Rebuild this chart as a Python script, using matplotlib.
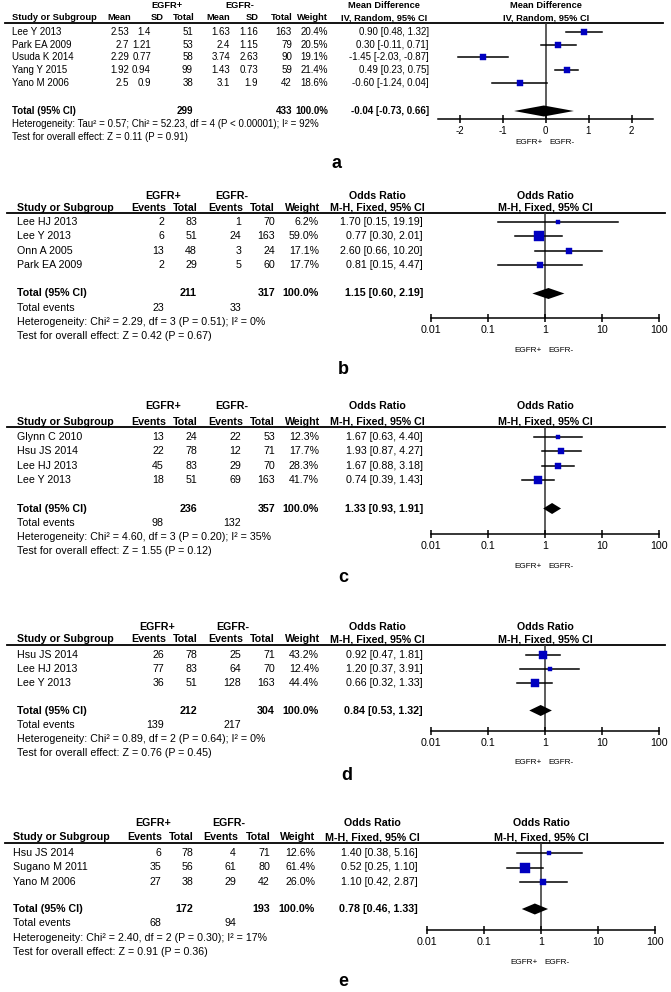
import matplotlib
matplotlib.use("Agg")
import matplotlib.pyplot as plt
import numpy as np

W, H = 671, 992
plt.rcParams['font.family'] = ['Liberation Sans', 'DejaVu Sans']

BLUE = '#0000c0'

# ---- panel a: mean difference
a_studies = ["Lee Y 2013", "Park EA 2009", "Usuda K 2014", "Yang Y 2015", "Yano M 2006"]
a_pos_mean = [2.53, 2.7, 2.29, 1.92, 2.5]
a_pos_sd = [1.4, 1.21, 0.77, 0.94, 0.9]
a_pos_n = [51, 53, 58, 99, 38]
a_neg_mean = [1.63, 2.4, 3.74, 1.43, 3.1]
a_neg_sd = [1.16, 1.15, 2.63, 0.73, 1.9]
a_neg_n = [163, 79, 90, 59, 42]
a_weight = [20.4, 20.5, 19.1, 21.4, 18.6]
a_est = [0.90, 0.30, -1.45, 0.49, -0.60]
a_lo = [0.48, -0.11, -2.03, 0.23, -1.24]
a_hi = [1.32, 0.71, -0.87, 0.75, 0.04]
a_total = [-0.04, -0.73, 0.66]
a_total_n = [299, 433]
a_het = "Heterogeneity: Tau² = 0.57; Chi² = 52.23, df = 4 (P < 0.00001); I² = 92%"
a_test = "Test for overall effect: Z = 0.11 (P = 0.91)"

# ---- panel b
b_studies = ["Lee HJ 2013", "Lee Y 2013", "Onn A 2005", "Park EA 2009"]
b_pos_ev = [2, 6, 13, 2]
b_pos_n = [83, 51, 48, 29]
b_neg_ev = [1, 24, 3, 5]
b_neg_n = [70, 163, 24, 60]
b_weight = [6.2, 59.0, 17.1, 17.7]
b_est = [1.70, 0.77, 2.60, 0.81]
b_lo = [0.15, 0.30, 0.66, 0.15]
b_hi = [19.19, 2.01, 10.20, 4.47]
b_total = [1.15, 0.60, 2.19]
b_total_n = [211, 317]
b_total_ev = [23, 33]
b_het = "Heterogeneity: Chi² = 2.29, df = 3 (P = 0.51); I² = 0%"
b_test = "Test for overall effect: Z = 0.42 (P = 0.67)"

# ---- panel c
c_studies = ["Glynn C 2010", "Hsu JS 2014", "Lee HJ 2013", "Lee Y 2013"]
c_pos_ev = [13, 22, 45, 18]
c_pos_n = [24, 78, 83, 51]
c_neg_ev = [22, 12, 29, 69]
c_neg_n = [53, 71, 70, 163]
c_weight = [12.3, 17.7, 28.3, 41.7]
c_est = [1.67, 1.93, 1.67, 0.74]
c_lo = [0.63, 0.87, 0.88, 0.39]
c_hi = [4.40, 4.27, 3.18, 1.43]
c_total = [1.33, 0.93, 1.91]
c_total_n = [236, 357]
c_total_ev = [98, 132]
c_het = "Heterogeneity: Chi² = 4.60, df = 3 (P = 0.20); I² = 35%"
c_test = "Test for overall effect: Z = 1.55 (P = 0.12)"

# ---- panel d
d_studies = ["Hsu JS 2014", "Lee HJ 2013", "Lee Y 2013"]
d_pos_ev = [26, 77, 36]
d_pos_n = [78, 83, 51]
d_neg_ev = [25, 64, 128]
d_neg_n = [71, 70, 163]
d_weight = [43.2, 12.4, 44.4]
d_est = [0.92, 1.20, 0.66]
d_lo = [0.47, 0.37, 0.32]
d_hi = [1.81, 3.91, 1.33]
d_total = [0.84, 0.53, 1.32]
d_total_n = [212, 304]
d_total_ev = [139, 217]
d_het = "Heterogeneity: Chi² = 0.89, df = 2 (P = 0.64); I² = 0%"
d_test = "Test for overall effect: Z = 0.76 (P = 0.45)"

# ---- panel e
e_studies = ["Hsu JS 2014", "Sugano M 2011", "Yano M 2006"]
e_pos_ev = [6, 35, 27]
e_pos_n = [78, 56, 38]
e_neg_ev = [4, 61, 29]
e_neg_n = [71, 80, 42]
e_weight = [12.6, 61.4, 26.0]
e_est = [1.40, 0.52, 1.10]
e_lo = [0.38, 0.25, 0.42]
e_hi = [5.16, 1.10, 2.87]
e_total = [0.78, 0.46, 1.33]
e_total_n = [172, 193]
e_total_ev = [68, 94]
e_het = "Heterogeneity: Chi² = 2.40, df = 2 (P = 0.30); I² = 17%"
e_test = "Test for overall effect: Z = 0.91 (P = 0.36)"

md_ticks = [-2, -1, 0, 1, 2]
or_ticks = [0.01, 0.1, 1, 10, 100]

fig = plt.figure(figsize=(W / 100, H / 100), dpi=100)
bg = fig.add_axes([0, 0, 1, 1])
bg.set_xlim(0, W)
bg.set_ylim(H, 0)
bg.axis('off')


def txt(x, y, s, ha='left', va='center', fs=7.5, bold=False):
    bg.text(x, y, s, ha=ha, va=va, fontsize=fs,
            fontweight='bold' if bold else 'normal', color='black')


def draw_panel(L, studies, cols, hdrs, weights, est, lo, hi, total, tot_n,
               tot_ev, het, test, meas, method, log, letter):
    fs = L['fs']
    hfs = L.get('hfs', fs)
    # group headers
    txt(L['grp'][0], L['y_grp'], "EGFR+", ha='center', fs=hfs, bold=True)
    txt(L['grp'][1], L['y_grp'], "EGFR-", ha='center', fs=hfs, bold=True)
    # column header row
    yb = L['y_line'] - 2
    txt(L['x_study'], yb, "Study or Subgroup", va='baseline', fs=hfs, bold=True)
    for h, xh in zip(hdrs, L['xh']):
        txt(xh, yb, h, ha='right', va='baseline', fs=hfs, bold=True)
    txt(L['xh_w'], yb, "Weight", ha='right', va='baseline', fs=hfs, bold=True)
    txt(L['est_c'], L['y_grp'], meas, ha='center', fs=hfs, bold=True)
    txt(L['est_c'], yb, method, ha='center', va='baseline', fs=hfs, bold=True)
    x0, x1, y_ax = L['box']
    pc = L['null_x']
    txt(pc, L['y_grp'], meas, ha='center', fs=hfs, bold=True)
    txt(pc, yb, method, ha='center', va='baseline', fs=hfs, bold=True)
    bg.plot(L['line_x'], [L['y_line'], L['y_line']], color='black', lw=1.3)

    # study rows
    ys = [L['row0'] + i * L['dy'] for i in range(len(studies))]
    for i, y in enumerate(ys):
        txt(L['x_study'], y, studies[i], fs=fs)
        for col, xv in zip(cols, L['xv']):
            txt(xv, y, str(col[i]), ha='right', fs=fs)
        txt(L['xv_w'], y, f"{weights[i]:.1f}%", ha='right', fs=fs)
        txt(L['est_r'], y, f"{est[i]:.2f} [{lo[i]:.2f}, {hi[i]:.2f}]", ha='right', fs=fs)

    yt = L['y_tot']
    txt(L['x_study'], yt, "Total (95% CI)", fs=fs, bold=True)
    for k, ci in enumerate(L['tot_cols']):
        txt(L['xv'][ci], yt, str(tot_n[k]), ha='right', fs=fs, bold=True)
    txt(L['xv_w'], yt, "100.0%", ha='right', fs=fs, bold=True)
    txt(L['est_r'], yt, f"{total[0]:.2f} [{total[1]:.2f}, {total[2]:.2f}]",
        ha='right', fs=fs, bold=True)
    yf = yt + L['fdy']
    if tot_ev is not None:
        txt(L['x_study'], yf, "Total events", fs=fs)
        for k, ci in enumerate(L['ev_cols']):
            txt(L['xv'][ci], yf, str(tot_ev[k]), ha='right', fs=fs)
        yf += L['fdy']
    txt(L['x_study'], yf, het, fs=fs)
    txt(L['x_study'], yf + L['fdy'], test, fs=fs)

    # forest plot axes
    ax = fig.add_axes([x0 / W, 1 - y_ax / H, (x1 - x0) / W, (y_ax - L['y_line']) / H])
    ax.set_facecolor('none')
    if log:
        ax.set_xscale('log')
        ax.set_xlim(0.01, 100)
        ticks = or_ticks
        null = 1
    else:
        ax.set_xlim(-2.5, 2.5)
        ticks = md_ticks
        null = 0
    ax.set_ylim(y_ax, L['y_line'])
    ax.axvline(null, color='#303030', lw=1.1, zorder=1)
    for i, y in enumerate(ys):
        ax.plot([lo[i], hi[i]], [y, y], color='black', lw=1.1, zorder=2)
        side = 1.3 * np.sqrt(weights[i])
        ax.plot(est[i], y, marker='s', ms=side * 0.72, color=BLUE, mec=BLUE,
                mew=0.3, zorder=3)
    hh = 5.5
    ax.fill([total[1], total[0], total[2], total[0]], [yt, yt - hh, yt, yt + hh],
            color='black', lw=0, zorder=3)
    for s in ['top', 'left', 'right']:
        ax.spines[s].set_visible(False)
    ax.spines['bottom'].set_linewidth(1.1)
    ax.set_yticks([])
    ax.set_xticks(ticks)
    ax.set_xticklabels([f"{t:g}" for t in ticks])
    ax.minorticks_off()
    ax.tick_params(axis='x', direction='inout', length=6, width=1.1,
                   labelsize=fs, pad=2)
    txt(pc - 3, L['y_lab'], "EGFR+", ha='right', fs=5.9)
    txt(pc + 3, L['y_lab'], "EGFR-", ha='left', fs=5.9)
    txt(L['letter'][0], L['letter'][1], letter, ha='center', fs=13, bold=True)


La = dict(fs=7.05, hfs=6.7, grp=(167, 240), y_grp=5.5, y_line=22.5, x_study=12,
          xh=[131, 164, 195, 230, 259, 293], xv=[129, 151, 193, 230, 258, 292],
          xh_w=328, xv_w=328, est_c=384, est_r=429, line_x=[5, 663],
          box=(438, 653, 119), null_x=546, row0=32, dy=12.65, y_tot=111, fdy=13,
          tot_cols=[2, 5], ev_cols=None, y_lab=143, letter=(337, 163))
draw_panel(La, a_studies, [a_pos_mean, a_pos_sd, a_pos_n, a_neg_mean, a_neg_sd, a_neg_n],
           ["Mean", "SD", "Total", "Mean", "SD", "Total"], a_weight, a_est, a_lo, a_hi,
           a_total, a_total_n, None, a_het, a_test,
           "Mean Difference", "IV, Random, 95% CI", False, "a")

or_hdrs = ["Events", "Total", "Events", "Total"]
base = dict(fs=7.65, x_study=17, xh=[166, 198, 243, 275], xv=[164, 197, 241, 275],
            xh_w=320, xv_w=319, est_c=377, est_r=423, line_x=[7, 665],
            box=(431, 659, 318), null_x=545, fdy=14.3, tot_cols=[1, 3], ev_cols=[0, 2])

Lb = dict(base, grp=(163, 232), y_grp=196, y_line=213, row0=222, dy=14.3,
          y_tot=293.5, box=(431, 659, 318), y_lab=350, letter=(343, 370))
draw_panel(Lb, b_studies, [b_pos_ev, b_pos_n, b_neg_ev, b_neg_n], or_hdrs, b_weight,
           b_est, b_lo, b_hi, b_total, b_total_n, b_total_ev, b_het, b_test,
           "Odds Ratio", "M-H, Fixed, 95% CI", True, "b")

Lc = dict(base, grp=(163, 232), y_grp=406, y_line=427, row0=437, dy=14.3,
          y_tot=508.5, box=(431, 659, 534), y_lab=566, letter=(343, 578))
draw_panel(Lc, c_studies, [c_pos_ev, c_pos_n, c_neg_ev, c_neg_n], or_hdrs, c_weight,
           c_est, c_lo, c_hi, c_total, c_total_n, c_total_ev, c_het, c_test,
           "Odds Ratio", "M-H, Fixed, 95% CI", True, "c")

Ld = dict(base, grp=(157, 233), y_grp=627, y_line=644.5, row0=655, dy=14.2,
          y_tot=710.5, box=(431, 659, 731), y_lab=762, letter=(347, 775))
draw_panel(Ld, d_studies, [d_pos_ev, d_pos_n, d_neg_ev, d_neg_n], or_hdrs, d_weight,
           d_est, d_lo, d_hi, d_total, d_total_n, d_total_ev, d_het, d_test,
           "Odds Ratio", "M-H, Fixed, 95% CI", True, "d")

Le = dict(base, grp=(153, 229), y_grp=823, y_line=842.5, x_study=13,
          xh=[162, 194, 238, 271], xv=[161, 193, 236, 270], xh_w=315, xv_w=315,
          est_c=372, est_r=418, line_x=[5, 663], null_x=541, row0=853, dy=14.5,
          y_tot=909, box=(427, 655, 930), y_lab=962, letter=(343, 982))
draw_panel(Le, e_studies, [e_pos_ev, e_pos_n, e_neg_ev, e_neg_n], or_hdrs, e_weight,
           e_est, e_lo, e_hi, e_total, e_total_n, e_total_ev, e_het, e_test,
           "Odds Ratio", "M-H, Fixed, 95% CI", True, "e")

fig.savefig("out.png", dpi=100)
